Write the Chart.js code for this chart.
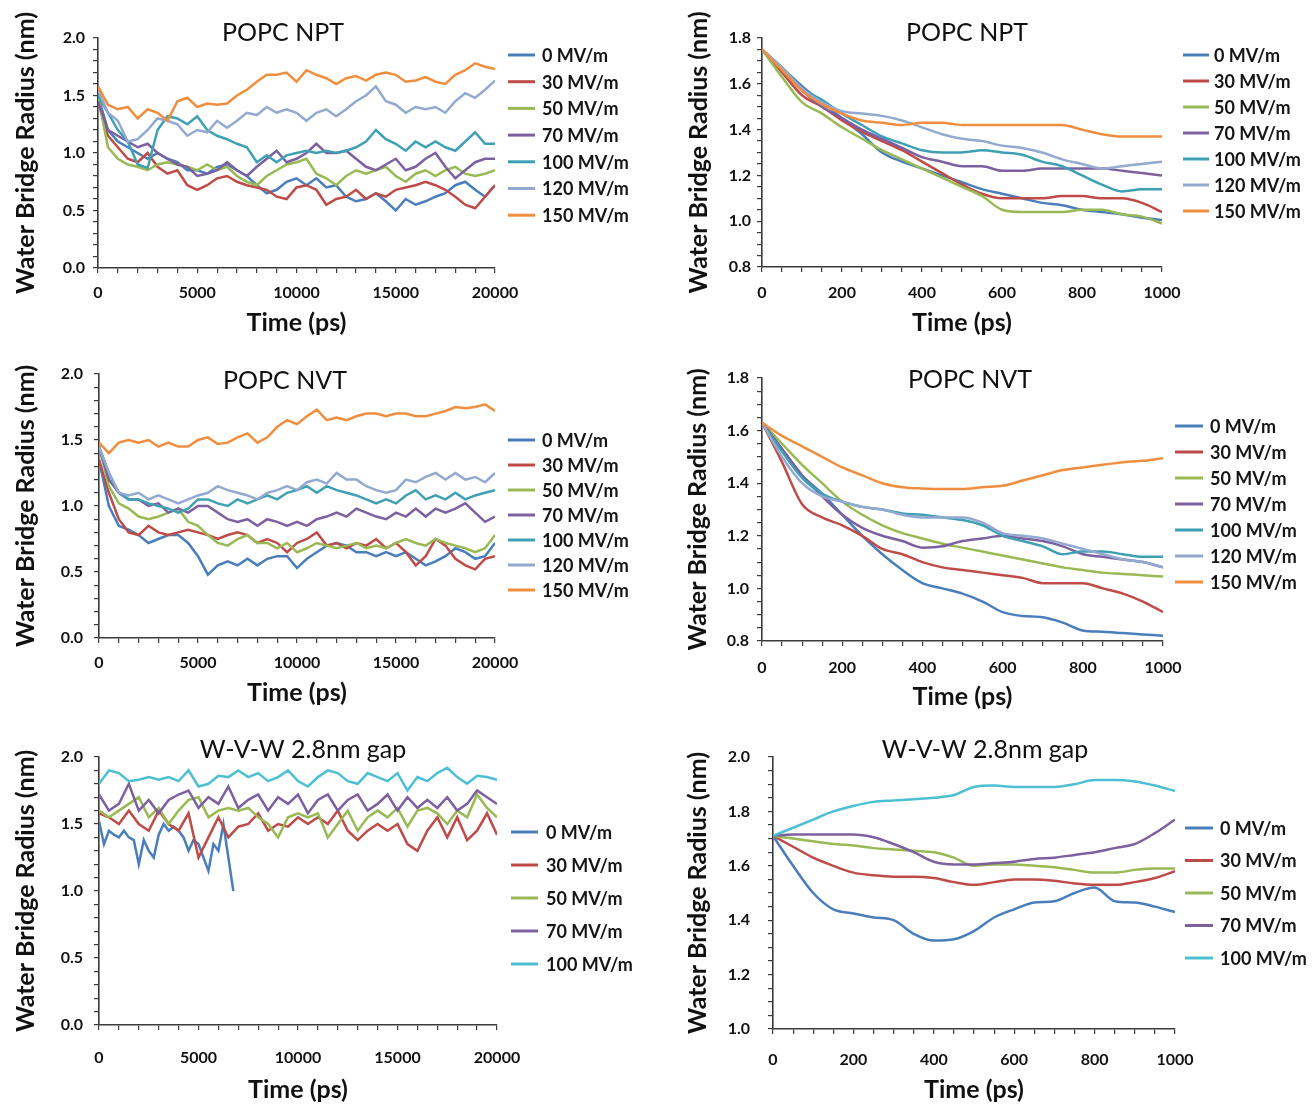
<!DOCTYPE html>
<html>
<head>
<meta charset="utf-8">
<script src="https://cdn.jsdelivr.net/npm/chart.js@4.4.1/dist/chart.umd.min.js"></script>
<style>
  html, body { margin: 0; padding: 0; background: #ffffff; }
  #wrap { position: relative; width: 1312px; height: 1105px; overflow: hidden; background: #fff; }
  canvas { position: absolute; }
</style>
</head>
<body>
<div id="wrap"></div>
<script>
// ---------------- DATA ----------------
const fieldLabels7 = ['0 MV/m','30 MV/m','50 MV/m','70 MV/m','100 MV/m','120 MV/m','150 MV/m'];
const fieldLabels5 = ['0 MV/m','30 MV/m','50 MV/m','70 MV/m','100 MV/m'];

const timeLong = [0,500,1000,1500,2000,2500,3000,3500,4000,4500,5000,5500,6000,6500,7000,7500,8000,8500,9000,9500,10000,10500,11000,11500,12000,12500,13000,13500,14000,14500,15000,15500,16000,16500,17000,17500,18000,18500,19000,19500,20000];
const timeShort = [0,50,100,150,200,250,300,350,400,450,500,550,600,650,700,750,800,850,900,950,1000];
const wvwBlueTime = [0,250,500,750,1000,1250,1500,1750,2000,2250,2500,2750,3000,3250,3500,3750,4000,4250,4500,4750,5000,5250,5500,5750,6000,6250,6500,6750];

const xTicksLong = [0,5000,10000,15000,20000];
const xTicksShort = [0,200,400,600,800,1000];

// POPC NPT, 20 ns
const nptLong0   = [1.50,1.20,1.10,1.05,1.00,0.95,1.00,0.95,0.92,0.85,0.85,0.82,0.88,0.90,0.85,0.80,0.72,0.65,0.68,0.75,0.78,0.72,0.78,0.70,0.72,0.62,0.58,0.60,0.65,0.58,0.50,0.60,0.55,0.58,0.62,0.65,0.72,0.75,0.68,0.62,0.72];
const nptLong30  = [1.45,1.15,1.05,0.95,0.92,1.00,0.88,0.82,0.85,0.72,0.68,0.72,0.78,0.80,0.75,0.72,0.70,0.68,0.62,0.60,0.70,0.72,0.68,0.55,0.60,0.62,0.68,0.60,0.65,0.62,0.68,0.70,0.72,0.75,0.72,0.68,0.62,0.55,0.52,0.62,0.72];
const nptLong50  = [1.50,1.05,0.95,0.90,0.88,0.85,0.90,0.92,0.90,0.88,0.85,0.90,0.85,0.88,0.80,0.75,0.72,0.80,0.85,0.90,0.92,0.95,0.82,0.78,0.72,0.80,0.85,0.82,0.85,0.88,0.80,0.75,0.82,0.85,0.80,0.85,0.88,0.82,0.80,0.82,0.85];
const nptLong70  = [1.45,1.20,1.15,1.10,1.05,1.08,1.00,0.95,0.90,0.88,0.80,0.82,0.85,0.92,0.85,0.80,0.88,0.95,1.02,0.92,0.95,1.00,1.08,1.00,1.00,1.02,0.95,0.88,0.85,0.90,0.95,0.85,0.88,0.95,1.00,0.88,0.78,0.85,0.92,0.95,0.95];
const nptLong100 = [1.50,1.35,1.20,1.10,0.90,0.87,1.20,1.32,1.30,1.25,1.32,1.20,1.15,1.12,1.08,1.05,0.92,0.98,0.92,0.98,1.00,1.02,1.00,1.02,1.00,1.02,1.05,1.10,1.20,1.12,1.08,1.02,1.10,1.05,1.10,1.05,1.02,1.10,1.18,1.08,1.08];
const nptLong120 = [1.55,1.35,1.28,1.10,1.12,1.20,1.30,1.28,1.25,1.15,1.20,1.18,1.28,1.22,1.28,1.35,1.33,1.40,1.35,1.38,1.35,1.28,1.35,1.38,1.32,1.38,1.45,1.50,1.58,1.45,1.42,1.35,1.40,1.38,1.40,1.35,1.45,1.52,1.48,1.55,1.63];
const nptLong150 = [1.58,1.42,1.38,1.40,1.30,1.38,1.35,1.28,1.45,1.48,1.40,1.43,1.42,1.43,1.50,1.55,1.62,1.68,1.68,1.70,1.62,1.72,1.68,1.65,1.60,1.65,1.67,1.63,1.68,1.70,1.68,1.62,1.63,1.66,1.62,1.60,1.68,1.72,1.78,1.75,1.73];

// POPC NPT, first 1 ns
const nptShort0   = [1.75,1.67,1.59,1.52,1.45,1.38,1.30,1.26,1.23,1.20,1.17,1.14,1.12,1.10,1.08,1.07,1.05,1.04,1.03,1.015,1.005];
const nptShort30  = [1.75,1.65,1.55,1.50,1.44,1.39,1.35,1.31,1.26,1.21,1.16,1.12,1.10,1.10,1.10,1.11,1.11,1.10,1.10,1.08,1.04];
const nptShort50  = [1.75,1.63,1.52,1.47,1.41,1.36,1.31,1.27,1.23,1.19,1.15,1.11,1.05,1.04,1.04,1.04,1.05,1.05,1.03,1.02,0.99];
const nptShort70  = [1.75,1.66,1.57,1.50,1.45,1.40,1.36,1.32,1.28,1.26,1.24,1.24,1.22,1.22,1.23,1.23,1.23,1.23,1.22,1.21,1.20];
const nptShort100 = [1.75,1.67,1.58,1.53,1.47,1.42,1.37,1.34,1.31,1.30,1.30,1.31,1.30,1.29,1.26,1.24,1.20,1.16,1.13,1.14,1.14];
const nptShort120 = [1.75,1.67,1.58,1.52,1.48,1.47,1.46,1.44,1.41,1.38,1.36,1.35,1.33,1.32,1.30,1.27,1.25,1.23,1.24,1.25,1.26];
const nptShort150 = [1.75,1.66,1.57,1.51,1.47,1.44,1.43,1.42,1.43,1.43,1.42,1.42,1.42,1.42,1.42,1.42,1.40,1.38,1.37,1.37,1.37];

// POPC NVT, 20 ns
const nvtLong0   = [1.35,1.00,0.85,0.82,0.78,0.72,0.75,0.78,0.78,0.72,0.62,0.48,0.55,0.58,0.55,0.60,0.55,0.60,0.62,0.62,0.53,0.60,0.65,0.70,0.72,0.70,0.65,0.65,0.62,0.65,0.62,0.65,0.60,0.55,0.58,0.62,0.68,0.65,0.60,0.62,0.72];
const nvtLong30  = [1.35,1.10,0.90,0.80,0.78,0.85,0.80,0.78,0.80,0.82,0.80,0.78,0.75,0.78,0.80,0.78,0.72,0.75,0.72,0.65,0.72,0.75,0.80,0.70,0.72,0.68,0.72,0.70,0.75,0.68,0.72,0.65,0.55,0.62,0.75,0.70,0.60,0.55,0.52,0.60,0.62];
const nvtLong50  = [1.45,1.15,1.02,0.98,0.92,0.90,0.92,0.95,0.98,0.88,0.85,0.78,0.72,0.70,0.75,0.78,0.72,0.72,0.68,0.72,0.65,0.68,0.72,0.70,0.68,0.70,0.72,0.68,0.70,0.68,0.72,0.75,0.72,0.70,0.75,0.72,0.70,0.68,0.65,0.68,0.78];
const nvtLong70  = [1.45,1.20,1.10,1.05,1.05,1.00,1.02,0.95,0.98,0.95,1.00,1.00,0.95,0.90,0.88,0.90,0.85,0.90,0.88,0.85,0.88,0.85,0.90,0.92,0.95,0.92,0.98,0.95,0.92,0.90,0.95,0.92,0.98,0.92,0.98,0.95,0.98,1.02,0.95,0.88,0.92];
const nvtLong100 = [1.45,1.25,1.10,1.05,1.05,1.02,1.00,0.98,0.95,0.98,1.05,1.05,1.02,1.00,1.05,1.02,1.05,1.08,1.05,1.10,1.12,1.15,1.10,1.15,1.12,1.10,1.08,1.05,1.02,1.05,1.02,1.08,1.12,1.05,1.08,1.05,1.10,1.05,1.08,1.10,1.12];
const nvtLong120 = [1.45,1.25,1.10,1.08,1.10,1.05,1.08,1.05,1.02,1.05,1.08,1.10,1.15,1.12,1.10,1.08,1.05,1.10,1.12,1.15,1.12,1.18,1.20,1.17,1.25,1.20,1.20,1.15,1.12,1.10,1.12,1.20,1.18,1.22,1.25,1.20,1.25,1.20,1.22,1.18,1.25];
const nvtLong150 = [1.48,1.40,1.48,1.50,1.48,1.50,1.45,1.48,1.45,1.45,1.50,1.52,1.47,1.48,1.52,1.55,1.48,1.52,1.60,1.65,1.62,1.68,1.73,1.65,1.67,1.65,1.68,1.70,1.70,1.68,1.70,1.70,1.68,1.68,1.70,1.72,1.75,1.74,1.75,1.77,1.72];

// POPC NVT, first 1 ns
const nvtShort0   = [1.63,1.53,1.43,1.36,1.28,1.20,1.13,1.07,1.02,1.00,0.98,0.95,0.91,0.895,0.89,0.87,0.84,0.835,0.83,0.825,0.82];
const nvtShort30  = [1.63,1.48,1.32,1.27,1.24,1.20,1.15,1.13,1.10,1.08,1.07,1.06,1.05,1.04,1.02,1.02,1.02,1.00,0.98,0.95,0.91];
const nvtShort50  = [1.63,1.55,1.47,1.40,1.33,1.28,1.24,1.21,1.19,1.17,1.155,1.14,1.125,1.11,1.095,1.08,1.07,1.06,1.055,1.05,1.045];
const nvtShort70  = [1.63,1.53,1.43,1.35,1.28,1.23,1.20,1.18,1.155,1.16,1.18,1.19,1.20,1.19,1.18,1.16,1.13,1.12,1.11,1.10,1.08];
const nvtShort100 = [1.63,1.52,1.42,1.36,1.33,1.31,1.30,1.285,1.28,1.27,1.26,1.24,1.20,1.18,1.16,1.13,1.14,1.14,1.13,1.12,1.12];
const nvtShort120 = [1.63,1.50,1.40,1.35,1.33,1.31,1.30,1.28,1.27,1.27,1.27,1.25,1.21,1.20,1.19,1.17,1.15,1.13,1.11,1.10,1.08];
const nvtShort150 = [1.63,1.58,1.54,1.50,1.46,1.43,1.40,1.385,1.38,1.378,1.378,1.385,1.39,1.41,1.43,1.45,1.46,1.47,1.48,1.485,1.495];

// W-V-W 2.8 nm gap, 20 ns
const wvwLong0   = [1.52,1.35,1.45,1.42,1.40,1.45,1.40,1.38,1.20,1.38,1.30,1.25,1.42,1.50,1.45,1.48,1.45,1.40,1.30,1.38,1.35,1.25,1.15,1.35,1.30,1.50,1.25,1.00];
const wvwLong30  = [1.58,1.55,1.50,1.60,1.50,1.45,1.60,1.50,1.45,1.58,1.25,1.40,1.55,1.40,1.48,1.50,1.58,1.45,1.50,1.48,1.55,1.50,1.55,1.50,1.60,1.45,1.38,1.45,1.50,1.45,1.50,1.35,1.30,1.45,1.55,1.40,1.55,1.38,1.45,1.58,1.42];
const wvwLong50  = [1.60,1.55,1.60,1.65,1.70,1.55,1.62,1.50,1.60,1.68,1.70,1.55,1.60,1.62,1.60,1.62,1.55,1.50,1.40,1.55,1.58,1.55,1.58,1.40,1.50,1.60,1.45,1.55,1.60,1.55,1.62,1.48,1.60,1.62,1.58,1.50,1.60,1.55,1.72,1.62,1.55];
const wvwLong70  = [1.72,1.60,1.65,1.80,1.60,1.68,1.58,1.68,1.72,1.75,1.62,1.70,1.65,1.78,1.62,1.68,1.72,1.60,1.70,1.65,1.72,1.58,1.68,1.72,1.60,1.68,1.72,1.60,1.65,1.72,1.60,1.70,1.62,1.68,1.62,1.70,1.60,1.65,1.75,1.70,1.65];
const wvwLong100 = [1.80,1.90,1.88,1.82,1.83,1.85,1.83,1.85,1.82,1.90,1.78,1.80,1.86,1.85,1.90,1.85,1.88,1.82,1.85,1.90,1.82,1.78,1.85,1.90,1.88,1.82,1.80,1.88,1.85,1.82,1.88,1.75,1.85,1.82,1.88,1.92,1.85,1.80,1.86,1.85,1.83];

// W-V-W 2.8 nm gap, first 1 ns
const wvwShort0   = [1.71,1.60,1.50,1.44,1.425,1.41,1.40,1.35,1.325,1.33,1.36,1.41,1.44,1.465,1.47,1.50,1.52,1.47,1.465,1.45,1.43];
const wvwShort30  = [1.71,1.67,1.63,1.60,1.575,1.565,1.56,1.56,1.555,1.54,1.53,1.54,1.55,1.55,1.545,1.535,1.53,1.53,1.54,1.555,1.58];
const wvwShort50  = [1.71,1.70,1.69,1.68,1.675,1.665,1.66,1.655,1.65,1.63,1.60,1.605,1.605,1.60,1.595,1.585,1.575,1.575,1.585,1.59,1.59];
const wvwShort70  = [1.71,1.715,1.715,1.715,1.715,1.705,1.68,1.65,1.615,1.605,1.605,1.61,1.615,1.625,1.63,1.64,1.65,1.665,1.68,1.72,1.77];
const wvwShort100 = [1.71,1.74,1.77,1.80,1.82,1.835,1.84,1.845,1.85,1.86,1.89,1.895,1.89,1.89,1.89,1.90,1.915,1.915,1.91,1.895,1.875];

// ---------------- STYLE ----------------
const FONT = 'Lato, "Open Sans", "DejaVu Sans", sans-serif';
const colorsA = ['#4A7EBB','#BE4B48','#98B954','#7D60A0','#3FA0B4','#93A9CF','#F08E3F'];
const colorsB = ['#4A7EBB','#BE4B48','#98B954','#7D60A0','#4CC0D2'];
const AXIS = '#3a3a3a';
const AXIS_TITLE_SIZE = 25;

function isMajor(v, major) {
  const r = v / major;
  return Math.abs(r - Math.round(r)) < 1e-6;
}

const decoPlugin = {
  id: 'deco',
  afterDraw(chart) {
    const o = chart.options.plugins.deco;
    if (!o) return;
    const ctx = chart.ctx;
    ctx.save();
    ctx.fillStyle = '#111';
    ctx.font = 'normal 25px ' + FONT;
    ctx.textAlign = 'center';
    ctx.textBaseline = 'middle';
    ctx.fillText(o.title, o.titleX, o.titleY);
    ctx.font = 'bold 18px ' + FONT;
    ctx.textAlign = 'left';
    chart.data.datasets.forEach((ds, i) => {
      const y = o.legY0 + i * o.legDY;
      ctx.strokeStyle = ds.borderColor;
      ctx.lineWidth = 3;
      ctx.beginPath();
      ctx.moveTo(o.legX0, y);
      ctx.lineTo(o.legX1, y);
      ctx.stroke();
      ctx.fillStyle = '#151515';
      ctx.fillText(ds.label, o.legTX, y + 1);
    });
    ctx.restore();
  }
};

function makePanel(p) {
  const cv = document.createElement('canvas');
  cv.width = p.w; cv.height = p.h;
  cv.style.left = p.left + 'px'; cv.style.top = p.top + 'px';
  cv.style.width = p.w + 'px'; cv.style.height = p.h + 'px';
  document.getElementById('wrap').appendChild(cv);

  const tickFont = { family: FONT, size: 16, weight: 'bold' };
  const titleFont = { family: FONT, size: AXIS_TITLE_SIZE, weight: 'bold' };
  const tl = 5;
  const titleLH = AXIS_TITLE_SIZE * 1.2;
  const xLabLH = 16 * 1.2;

  const datasets = p.series.map((s, i) => ({
    label: s.label,
    data: s.x.map((xv, k) => ({ x: xv, y: s.y[k] })),
    borderColor: s.color,
    backgroundColor: s.color,
    borderWidth: 2.5,
    pointRadius: 0,
    fill: false,
    tension: p.smooth ? 0.4 : 0,
    cubicInterpolationMode: p.smooth ? 'monotone' : 'default',
    order: p.series.length - i
  }));

  new Chart(cv.getContext('2d'), {
    type: 'line',
    data: { datasets },
    plugins: [decoPlugin],
    options: {
      responsive: false,
      animation: false,
      events: [],
      layout: { padding: { left: 0, top: p.area.t, right: p.w - p.area.r, bottom: 0 } },
      plugins: {
        legend: { display: false },
        tooltip: { enabled: false },
        deco: p.deco
      },
      scales: {
        x: {
          type: 'linear',
          min: p.xMin, max: p.xMax,
          afterFit(scale) { scale.height = p.h - p.area.b; },
          grid: { display: true, drawOnChartArea: false, drawTicks: true, tickLength: tl, color: AXIS, lineWidth: 1.2 },
          border: { display: true, color: AXIS, width: 1.6 },
          ticks: {
            stepSize: p.xMinor, autoSkip: false, maxRotation: 0, minRotation: 0,
            padding: p.xLabC - p.area.b - tl - xLabLH / 2,
            color: '#111', font: tickFont,
            callback: (v) => (p.xLabels.indexOf(v) >= 0 ? String(v) : '')
          },
          title: {
            display: true, text: 'Time (ps)', color: '#111', font: titleFont,
            padding: { top: 0, bottom: p.h - p.xTitleC - titleLH / 2 }
          }
        },
        y: {
          type: 'linear',
          min: p.yMin, max: p.yMax,
          afterFit(scale) { scale.width = p.area.l; },
          grid: { display: true, drawOnChartArea: false, drawTicks: true, tickLength: tl, color: AXIS, lineWidth: 1.2 },
          border: { display: true, color: AXIS, width: 1.6 },
          ticks: {
            stepSize: p.yMinor, autoSkip: false,
            padding: p.yGap - tl,
            color: '#111', font: tickFont,
            callback: (v) => (isMajor(v, p.yMajor) ? v.toFixed(1) : '')
          },
          title: {
            display: true, text: 'Water Bridge Radius (nm)', color: '#111', font: titleFont,
            padding: { top: p.yTitleC - titleLH / 2, bottom: 0 }
          }
        }
      }
    }
  });
}

function series(labels, colors, xs, ys) {
  return labels.map((lab, i) => ({ label: lab, color: colors[i], x: xs[i], y: ys[i] }));
}

const L7 = [timeLong,timeLong,timeLong,timeLong,timeLong,timeLong,timeLong];
const S7 = [timeShort,timeShort,timeShort,timeShort,timeShort,timeShort,timeShort];

// Panel 1: POPC NPT 20 ns
makePanel({
  left: 0, top: 0, w: 656, h: 350,
  area: { l: 98, r: 495, t: 38, b: 268 },
  xMin: 0, xMax: 20000, xMinor: 1000, xLabels: xTicksLong,
  yMin: 0, yMax: 2.0, yMinor: 0.1, yMajor: 0.5,
  yGap: 13, yTitleC: 26, xLabC: 293, xTitleC: 323,
  smooth: false,
  deco: { title: 'POPC NPT', titleX: 283, titleY: 33, legX0: 508, legX1: 535, legTX: 542, legY0: 55, legDY: 26.7 },
  series: series(fieldLabels7, colorsA, L7, [nptLong0,nptLong30,nptLong50,nptLong70,nptLong100,nptLong120,nptLong150])
});

// Panel 2: POPC NPT 1 ns
makePanel({
  left: 656, top: 0, w: 656, h: 350,
  area: { l: 106, r: 506, t: 38, b: 267 },
  xMin: 0, xMax: 1000, xMinor: 50, xLabels: xTicksShort,
  yMin: 0.8, yMax: 1.8, yMinor: 0.05, yMajor: 0.2,
  yGap: 11, yTitleC: 43, xLabC: 293, xTitleC: 323,
  smooth: true,
  deco: { title: 'POPC NPT', titleX: 311, titleY: 33, legX0: 527, legX1: 553, legTX: 558, legY0: 55, legDY: 26 },
  series: series(fieldLabels7, colorsA, S7, [nptShort0,nptShort30,nptShort50,nptShort70,nptShort100,nptShort120,nptShort150])
});

// Panel 3: POPC NVT 20 ns
makePanel({
  left: 0, top: 350, w: 656, h: 365,
  area: { l: 99, r: 495, t: 24, b: 288 },
  xMin: 0, xMax: 20000, xMinor: 1000, xLabels: xTicksLong,
  yMin: 0, yMax: 2.0, yMinor: 0.1, yMajor: 0.5,
  yGap: 16, yTitleC: 26, xLabC: 313, xTitleC: 343,
  smooth: false,
  deco: { title: 'POPC NVT', titleX: 285, titleY: 31, legX0: 508, legX1: 535, legTX: 542, legY0: 90, legDY: 25 },
  series: series(fieldLabels7, colorsA, L7, [nvtLong0,nvtLong30,nvtLong50,nvtLong70,nvtLong100,nvtLong120,nvtLong150])
});

// Panel 4: POPC NVT 1 ns
makePanel({
  left: 656, top: 350, w: 656, h: 365,
  area: { l: 106, r: 507, t: 28, b: 291 },
  xMin: 0, xMax: 1000, xMinor: 50, xLabels: xTicksShort,
  yMin: 0.8, yMax: 1.8, yMinor: 0.05, yMajor: 0.2,
  yGap: 13, yTitleC: 42, xLabC: 318, xTitleC: 347,
  smooth: true,
  deco: { title: 'POPC NVT', titleX: 314, titleY: 30, legX0: 519, legX1: 547, legTX: 554, legY0: 76, legDY: 26 },
  series: series(fieldLabels7, colorsA, S7, [nvtShort0,nvtShort30,nvtShort50,nvtShort70,nvtShort100,nvtShort120,nvtShort150])
});

// Panel 5: W-V-W 20 ns
makePanel({
  left: 0, top: 715, w: 656, h: 390,
  area: { l: 99, r: 497, t: 42, b: 310 },
  xMin: 0, xMax: 20000, xMinor: 1000, xLabels: xTicksLong,
  yMin: 0, yMax: 2.0, yMinor: 0.1, yMajor: 0.5,
  yGap: 16, yTitleC: 26, xLabC: 343, xTitleC: 375,
  smooth: false,
  deco: { title: 'W-V-W 2.8nm gap', titleX: 303, titleY: 35, legX0: 511, legX1: 538, legTX: 546, legY0: 117, legDY: 33 },
  series: series(fieldLabels5, colorsB, [wvwBlueTime,timeLong,timeLong,timeLong,timeLong], [wvwLong0,wvwLong30,wvwLong50,wvwLong70,wvwLong100])
});

// Panel 6: W-V-W 1 ns
makePanel({
  left: 656, top: 715, w: 656, h: 390,
  area: { l: 117, r: 519, t: 42, b: 314 },
  xMin: 0, xMax: 1000, xMinor: 50, xLabels: xTicksShort,
  yMin: 1.0, yMax: 2.0, yMinor: 0.05, yMajor: 0.2,
  yGap: 23, yTitleC: 42, xLabC: 345, xTitleC: 375,
  smooth: true,
  deco: { title: 'W-V-W 2.8nm gap', titleX: 329, titleY: 35, legX0: 529, legX1: 557, legTX: 564, legY0: 113, legDY: 32.5 },
  series: series(fieldLabels5, colorsB, [timeShort,timeShort,timeShort,timeShort,timeShort], [wvwShort0,wvwShort30,wvwShort50,wvwShort70,wvwShort100])
});
</script>
</body>
</html>
